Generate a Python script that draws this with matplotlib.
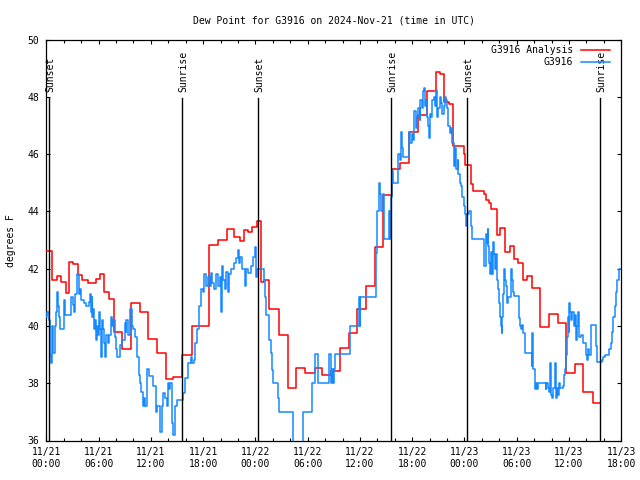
import matplotlib
matplotlib.use("Agg")
import matplotlib.pyplot as plt
from matplotlib.ticker import MultipleLocator
from matplotlib.lines import Line2D

plt.rcParams['font.family'] = ['DejaVu Sans Mono']

# hours since 2024-11-21 00:00 UTC
red_hours = [0.0, 0.69, 1.2, 1.65, 2.23, 2.6, 3.1, 3.68, 4.14, 4.75, 5.7, 6.17, 6.66, 7.2, 7.74, 8.7, 9.7,
             10.7, 11.66, 12.7, 13.7, 14.6, 15.6, 16.7, 18.7, 19.7, 20.7, 21.6, 22.2, 22.7, 23.2, 23.65,
             24.15, 24.7, 25.0, 25.6, 26.7, 27.7, 28.7, 29.7, 30.8, 31.7, 32.7, 33.7, 34.7, 35.7, 36.7,
             37.7, 38.7, 39.65, 40.6, 41.6, 42.7, 43.7, 44.7, 45.2, 45.7, 46.2, 46.65, 47.7, 47.9, 48.1,
             48.7, 49.0, 50.2, 50.5, 50.8, 51.1, 51.7, 52.1, 52.7, 53.2, 53.66, 54.1, 54.7, 55.2, 55.7,
             56.65, 57.7, 58.7, 59.7, 60.7, 61.65, 62.7, 63.6]
red_vals = [42.63, 41.61, 41.73, 41.53, 41.15, 42.23, 42.15, 41.77, 41.6, 41.5, 41.65, 41.82, 41.2, 40.95,
            39.8, 39.2, 40.8, 40.5, 39.54, 39.07, 38.14, 38.23, 39.0, 40.0, 42.84, 43.0, 43.4, 43.1, 42.98,
            43.35, 43.3, 43.45, 43.68, 41.54, 41.6, 40.6, 39.7, 37.84, 38.54, 38.37, 38.52, 38.3, 38.44,
            39.22, 39.77, 40.59, 41.38, 42.75, 44.58, 45.49, 45.69, 46.76, 47.38, 48.22, 48.87, 48.8,
            47.82, 47.75, 46.3, 46.3, 46.0, 45.63, 44.96, 44.7, 44.62, 44.4, 44.3, 44.1, 43.18, 43.44,
            42.6, 42.8, 42.35, 42.2, 41.59, 41.73, 41.32, 39.98, 40.41, 40.1, 38.37, 38.66, 37.7, 37.3, 37.3]

blue_hours = [0.0, 0.12, 0.3, 0.4, 0.5, 0.6, 0.7, 0.8, 0.95, 1.1, 1.2, 1.3, 1.45, 1.55, 2.0, 2.15, 2.85,
              3.05, 3.2, 3.35, 3.55, 3.7, 3.9, 4.0, 4.3, 4.6, 4.85, 5.0, 5.1, 5.2, 5.3, 5.4, 5.5, 5.6, 5.7,
              5.8, 5.9, 6.05, 6.15, 6.25, 6.35, 6.5, 6.6, 6.75, 6.9, 7.05, 7.2, 7.4, 7.55, 7.7, 7.85, 8.0,
              8.1, 8.5, 8.65, 9.0, 9.1, 9.2, 9.4, 9.6, 9.8, 10.0, 10.2, 10.4, 10.6, 10.75, 10.9, 11.05,
              11.2, 11.35, 11.6, 11.8, 12.3, 12.6, 12.75, 13.1, 13.3, 13.45, 13.6, 13.8, 13.95, 14.1,
              14.25, 14.45, 14.6, 14.75, 15.0, 15.5, 15.7, 15.95, 16.3, 16.6, 16.75, 16.9, 17.1, 17.3,
              17.5, 17.75, 17.95, 18.15, 18.35, 18.55, 18.75, 18.85, 19.05, 19.3, 19.5, 19.75, 19.9,
              20.0, 20.15, 20.3, 20.5, 20.65, 20.85, 21.0, 21.25, 21.5, 21.8, 21.95, 22.1, 22.25, 22.45,
              22.75, 22.95, 23.15, 23.5, 23.75, 23.95, 24.1, 24.2, 24.95, 25.1, 25.25, 25.6, 25.75,
              25.9, 26.07, 26.56, 26.68, 28.28, 28.36, 29.51, 30.47, 30.89, 31.23, 32.42, 32.68, 32.8,
              32.9, 33.0, 33.1, 34.9, 35.85, 35.95, 36.05, 37.85, 38.0, 38.15, 38.3, 38.45, 38.6, 38.75,
              39.35, 39.42, 39.5, 39.6, 39.7, 39.8, 40.4, 40.6, 40.7, 40.85, 41.0, 41.65, 41.8, 41.95,
              42.1, 42.25, 42.4, 42.55, 42.7, 42.85, 42.95, 43.1, 43.2, 43.35, 43.45, 43.55, 43.65,
              43.8, 43.9, 44.0, 44.15, 44.3, 44.45, 44.6, 44.75, 44.9, 45.0, 45.15, 45.3, 45.45, 45.6,
              45.75, 45.9, 46.0, 46.15, 46.3, 46.45, 46.6, 46.75, 46.85, 46.95, 47.05, 47.2, 47.3,
              47.45, 47.6, 47.75, 47.9, 48.05, 48.15, 48.3, 48.5, 48.7, 48.85, 50.25, 50.45, 50.55,
              50.65, 50.75, 50.85, 50.95, 51.05, 51.15, 51.2, 51.3, 51.4, 51.5, 51.6, 51.7, 51.8,
              51.95, 52.05, 52.15, 52.25, 52.35, 52.45, 52.55, 52.65, 52.75, 52.85, 52.95, 53.05,
              53.3, 53.45, 53.55, 53.65, 54.25, 54.35, 54.5, 54.6, 54.75, 54.9, 55.0, 55.7, 55.8,
              55.9, 56.15, 56.25, 56.35, 56.45, 57.3, 57.4, 57.55, 57.7, 57.85, 57.95, 58.1, 58.2,
              58.35, 58.45, 58.6, 58.75, 58.85, 58.95, 59.35, 59.45, 59.55, 59.65, 59.75, 59.85,
              59.95, 60.05, 60.15, 60.25, 60.35, 60.6, 60.7, 60.8, 60.9, 61.0, 61.15, 61.35, 61.65,
              61.9, 62.05, 62.15, 62.3, 62.5, 63.1, 63.2, 63.75, 63.95, 64.15, 64.6, 64.8, 64.95,
              65.1, 65.25, 65.4, 65.55, 65.7, 66.0]
blue_vals = [40.3, 40.5, 40.2, 39.0, 38.7, 39.5, 40.0, 39.05, 40.0, 40.5, 41.2, 40.7, 40.3, 39.9, 40.9,
             40.4, 41.0, 40.75, 40.5, 41.1, 41.8, 41.1, 41.3, 40.9, 40.8, 40.7, 40.85, 41.1, 40.5, 41.0,
             40.3, 40.6, 39.9, 40.2, 39.5, 40.0, 39.7, 40.5, 39.9, 38.9, 40.2, 39.9, 39.4, 38.9, 39.7,
             39.4, 39.7, 40.3, 40.0, 40.2, 39.6, 39.2, 38.9, 39.35, 39.5, 40.1, 39.8, 40.2, 39.7, 40.6,
             40.0, 39.9, 39.6, 38.9, 38.3, 38.0, 37.7, 37.2, 37.5, 37.2, 38.5, 38.25, 37.9, 37.0, 37.2,
             36.3, 37.2, 37.65, 37.5, 37.2, 38.0, 37.8, 38.0, 36.6, 36.2, 37.2, 37.4, 37.4, 37.65, 38.2,
             38.7, 38.9, 38.7, 38.8, 39.4, 39.9, 40.7, 41.3, 41.2, 41.8, 41.4, 41.7, 41.4, 41.85, 41.5,
             41.3, 41.8, 41.4, 41.7, 40.5, 42.1, 41.6, 41.3, 41.9, 41.2, 41.8, 42.0, 42.2, 42.37, 42.66,
             42.2, 42.4, 42.0, 41.4, 42.0, 41.85, 42.1, 42.4, 42.77, 41.7, 42.0, 41.6, 41.0, 40.4, 39.5,
             39.05, 38.47, 38.0, 37.5, 37.0, 36.54, 35.5, 37.0, 38.0, 39.02, 38.0, 39.02, 38.0, 38.5,
             38.0, 38.5, 39.02, 40.0, 41.0, 40.0, 41.0, 42.54, 44.0, 45.0, 44.6, 44.0, 44.6, 43.03,
             44.0, 43.03, 44.0, 44.5, 45.4, 45.0, 46.0, 45.8, 46.76, 46.2, 45.9, 46.76, 46.4, 46.7,
             46.5, 47.5, 46.9, 47.3, 47.6, 47.2, 47.9, 47.6, 48.2, 48.3, 47.7, 47.9, 47.3, 47.0, 46.55,
             47.4, 47.3, 47.9, 48.0, 47.7, 48.25, 47.3, 47.6, 48.0, 47.8, 47.4, 47.7, 48.0, 47.9, 47.6,
             47.0, 46.75, 46.9, 46.4, 45.9, 45.6, 46.2, 45.5, 45.8, 45.3, 45.0, 44.9, 44.5, 44.2, 43.9,
             43.5, 43.9, 44.0, 43.5, 43.03, 42.08, 43.2, 42.9, 43.4, 42.8, 42.2, 41.8, 42.6, 42.1, 41.8,
             42.95, 42.5, 42.0, 42.5, 41.6, 41.3, 40.8, 40.3, 40.0, 39.75, 40.3, 41.1, 42.0, 41.6, 41.4,
             40.8, 40.9, 41.0, 42.0, 41.6, 41.2, 41.03, 40.27, 40.0, 39.9, 40.05, 39.75, 39.45, 39.05,
             38.6, 39.75, 38.5, 37.8, 38.0, 37.8, 38.0, 37.8, 38.0, 37.82, 37.7, 38.7, 37.6, 37.5,
             37.82, 38.7, 37.5, 37.82, 37.6, 38.0, 37.82, 37.9, 38.3, 38.5, 39.0, 39.6, 40.3, 39.8,
             40.8, 40.5, 40.2, 40.5, 40.0, 40.4, 39.5, 40.0, 40.5, 39.6, 39.7, 39.4, 39.0, 38.8, 39.2,
             39.0, 40.04, 39.3, 38.73, 38.8, 38.9, 39.0, 39.2, 39.4, 39.8, 40.3, 40.7, 41.2, 41.6,
             42.0, 42.0]

event_hours = [0.34, 15.6, 24.33, 39.6, 48.33, 63.6]
event_labels = ["Sunset", "Sunrise", "Sunset", "Sunrise", "Sunset", "Sunrise"]

tick_hours = list(range(0, 67, 6))
tick_labels = ["11/21\n00:00", "11/21\n06:00", "11/21\n12:00", "11/21\n18:00",
               "11/22\n00:00", "11/22\n06:00", "11/22\n12:00", "11/22\n18:00",
               "11/23\n00:00", "11/23\n06:00", "11/23\n12:00", "11/23\n18:00"]

FS = 7
fig = plt.figure(figsize=(6.4, 4.8), dpi=100)
ax = fig.add_axes([46.3 / 640, 1 - 440.5 / 480, (621.3 - 46.3) / 640, (440.5 - 39.7) / 480])

red_c = '#ff0000'
blue_c = '#1589ff'
ax.step(red_hours, red_vals, where='post', color=red_c, lw=1.1, zorder=3)
ax.step(blue_hours, blue_vals, where='post', color=blue_c, lw=1.1, zorder=4)

for h, lab in zip(event_hours, event_labels):
    ax.plot([h, h], [36, 47.95], color='black', lw=1.0, zorder=5)
    ax.text(h + 0.1, 48.18, lab, rotation=90, ha='center', va='bottom', fontsize=FS, zorder=6)

ax.set_xlim(0, 66)
ax.set_ylim(36, 50)
ax.set_xticks(tick_hours)
ax.set_xticklabels(tick_labels, fontsize=FS, linespacing=1.15)
ax.xaxis.set_minor_locator(MultipleLocator(2))
ax.set_yticks(range(36, 51, 2))
ax.set_yticklabels([str(v) for v in range(36, 51, 2)], fontsize=FS)
ax.tick_params(which='both', direction='in', top=True, right=True, width=0.8)
ax.tick_params(which='major', length=3.2, pad=5)
ax.tick_params(which='minor', length=2.0)
for s in ax.spines.values():
    s.set_linewidth(0.9)

ax.set_title("Dew Point for G3916 on 2024-Nov-21 (time in UTC)", fontsize=FS, pad=12)
ax.set_ylabel("degrees F", fontsize=FS, labelpad=8)

# legend (manual, right-aligned text like gnuplot)
leg_rows = [("G3916 Analysis", red_c, 0.9735), ("G3916", blue_c, 0.9435)]
for lab, c, yy in leg_rows:
    ax.text(0.9165, yy, lab, transform=ax.transAxes, ha='right', va='center', fontsize=FS, zorder=7)
    ax.add_line(Line2D([0.9306, 0.9806], [yy + 0.002, yy + 0.002], transform=ax.transAxes,
                       color=c, lw=1.1, zorder=7))

fig.savefig("out.png", dpi=100)
